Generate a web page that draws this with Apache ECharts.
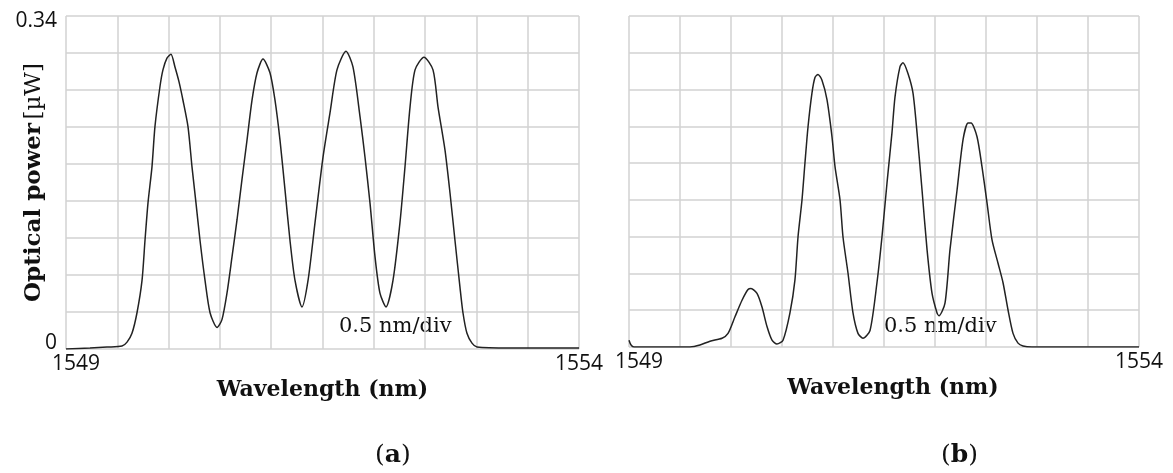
<!DOCTYPE html>
<html>
<head>
<meta charset="utf-8">
<script src="https://cdn.jsdelivr.net/npm/echarts@6/dist/echarts.min.js"></script>
<style>
html,body{margin:0;padding:0;background:#fff;}
#c{width:1173px;height:473px;}
</style>
</head>
<body>
<div id="c"></div>
<script>
// ---- data (wavelength nm, optical power µW) ----
const wavelengthA = [1549.000,1549.234,1549.400,1549.546,1549.595,1549.643,1549.692,1549.741,1549.770,1549.799,1549.838,1549.867,1549.916,1549.945,1549.984,1550.023,1550.062,1550.101,1550.140,1550.189,1550.228,1550.267,1550.306,1550.355,1550.404,1550.472,1550.520,1550.569,1550.618,1550.667,1550.715,1550.764,1550.813,1550.862,1550.920,1550.988,1551.037,1551.086,1551.135,1551.183,1551.232,1551.300,1551.359,1551.427,1551.505,1551.573,1551.641,1551.729,1551.797,1551.866,1551.914,1551.963,1552.012,1552.060,1552.119,1552.187,1552.255,1552.304,1552.353,1552.402,1552.489,1552.577,1552.626,1552.694,1552.743,1552.791,1552.840,1552.869,1552.908,1552.957,1553.006,1553.327,1554.000];
const powerA = [0,0.001,0.002,0.003,0.007,0.016,0.037,0.070,0.111,0.149,0.186,0.227,0.268,0.285,0.297,0.301,0.288,0.273,0.254,0.227,0.186,0.149,0.111,0.070,0.037,0.022,0.030,0.057,0.094,0.132,0.173,0.213,0.254,0.282,0.296,0.282,0.254,0.213,0.162,0.111,0.070,0.043,0.070,0.129,0.196,0.241,0.285,0.304,0.288,0.237,0.196,0.149,0.094,0.057,0.043,0.070,0.129,0.186,0.247,0.285,0.298,0.285,0.247,0.203,0.159,0.111,0.063,0.037,0.016,0.006,0.002,0.001,0.001];

const wavelengthB = [1549.000,1549.020,1549.049,1549.598,1549.696,1549.794,1549.912,1549.971,1550.039,1550.108,1550.167,1550.196,1550.255,1550.304,1550.353,1550.402,1550.451,1550.510,1550.578,1550.627,1550.657,1550.696,1550.725,1550.755,1550.794,1550.824,1550.853,1550.892,1550.941,1550.990,1551.020,1551.069,1551.098,1551.147,1551.196,1551.245,1551.294,1551.363,1551.431,1551.480,1551.529,1551.578,1551.608,1551.657,1551.686,1551.735,1551.784,1551.824,1551.873,1551.922,1551.971,1552.020,1552.039,1552.098,1552.147,1552.216,1552.275,1552.324,1552.353,1552.412,1552.461,1552.510,1552.559,1552.618,1552.667,1552.716,1552.765,1552.814,1552.863,1552.951,1554.000];
const powerB = [0.007,0.002,0,0,0.002,0.006,0.009,0.014,0.031,0.048,0.059,0.060,0.055,0.041,0.021,0.007,0.003,0.007,0.035,0.069,0.113,0.151,0.189,0.226,0.261,0.277,0.280,0.274,0.254,0.216,0.185,0.151,0.113,0.076,0.035,0.014,0.009,0.017,0.066,0.113,0.168,0.220,0.257,0.288,0.292,0.281,0.261,0.220,0.161,0.100,0.055,0.035,0.032,0.045,0.100,0.161,0.213,0.230,0.230,0.216,0.185,0.148,0.110,0.086,0.066,0.038,0.014,0.004,0.001,0,0];

const xMin = 1549, xMax = 1554, xStep = 0.5;
const yMin = 0, yMax = 0.34, yDivisions = 9;
const yAxisName = 'Optical power';
const yAxisUnit = '[µW]';
const xAxisName = 'Wavelength (nm)';
const scaleNote = '0.5 nm/div';
const panelLabels = ['a', 'b'];

// ---- chart ----
const pairs = (xs, ys) => xs.map((x, i) => [x, ys[i]]);
const gridColor = '#d2d2d2';
const tickFont = '"Open Sans", "Noto Sans", sans-serif';
const serif = '"DejaVu Serif", "Liberation Serif", serif';
const tickSize = 21;

function xAxisFor(gridIndex, namePadLeft) {
  return {
    type: 'value', gridIndex, min: xMin, max: xMax, interval: xStep,
    axisLine: { show: false }, axisTick: { show: false },
    splitLine: { show: true, lineStyle: { color: gridColor, width: 1.5 } },
    axisLabel: {
      margin: 5, color: '#111', fontFamily: tickFont, fontSize: tickSize,
      formatter: v => Math.abs(v - xMin) < 1e-6 ? '{first|' + xMin + '}' : (Math.abs(v - xMax) < 1e-6 ? String(xMax) : ''),
      rich: { first: { padding: [0, 0, 0, 20], fontFamily: tickFont, fontSize: tickSize, color: '#111' } }
    },
    name: xAxisName, nameLocation: 'middle', nameGap: 30, nameMoveOverlap: false,
    nameTextStyle: { fontFamily: serif, fontWeight: 'bold', fontSize: 22, color: '#111', padding: [0, 0, 0, namePadLeft] }
  };
}

function yAxisFor(gridIndex, labels) {
  const ax = {
    type: 'value', gridIndex, min: yMin, max: yMax, interval: (yMax - yMin) / yDivisions,
    axisLine: { show: false }, axisTick: { show: false },
    splitLine: { show: true, lineStyle: { color: gridColor, width: 1.5 } },
    axisLabel: {
      show: labels, margin: 9, color: '#111', fontFamily: tickFont, fontSize: tickSize,
      formatter: v => Math.abs(v - yMin) < 1e-9 ? '{bot|0}' : (Math.abs(v - yMax) < 1e-6 ? '{top|' + yMax + '}' : ''),
      rich: {
        top: { padding: [10, 0, 0, 0], fontFamily: tickFont, fontSize: tickSize, color: '#111' },
        bot: { padding: [0, 0, 12, 0], fontFamily: tickFont, fontSize: tickSize, color: '#111' }
      }
    }
  };
  if (labels) {
    ax.name = '{b|' + yAxisName + '} {r|' + yAxisUnit + '}';
    ax.nameLocation = 'middle';
    ax.nameGap = 20;
    ax.nameRotate = 90;
    ax.nameMoveOverlap = false;
    ax.nameTextStyle = {
      rich: {
        b: { fontFamily: serif, fontWeight: 'bold', fontSize: 23, color: '#111' },
        r: { fontFamily: serif, fontSize: 23, color: '#111' }
      }
    };
  }
  return ax;
}

const lineSeries = (idx, data) => ({
  type: 'line', xAxisIndex: idx, yAxisIndex: idx, data,
  showSymbol: false, smooth: 0.25,
  lineStyle: { color: '#222', width: 1.5 }, silent: true, animation: false
});

const chart = echarts.init(document.getElementById('c'), null, { renderer: 'canvas' });
chart.setOption({
  backgroundColor: '#fff',
  animation: false,
  grid: [
    { left: 66, top: 16, width: 513, height: 333, containLabel: false, outerBoundsMode: 'none' },
    { left: 629, top: 16, width: 510, height: 331, containLabel: false, outerBoundsMode: 'none' }
  ],
  xAxis: [xAxisFor(0, 0), xAxisFor(1, 18)],
  yAxis: [yAxisFor(0, true), yAxisFor(1, false)],
  series: [lineSeries(0, pairs(wavelengthA, powerA)), lineSeries(1, pairs(wavelengthB, powerB))],
  graphic: [
    { type: 'text', left: 339, top: 316, style: { text: scaleNote, fontFamily: serif, fontSize: 21, fill: '#111' } },
    { type: 'text', left: 884, top: 316, style: { text: scaleNote, fontFamily: serif, fontSize: 21, fill: '#111' } },
    { type: 'text', left: 375, top: 443, style: { text: '({b|' + panelLabels[0] + '})', fontFamily: serif, fontSize: 25, fill: '#111', rich: { b: { fontFamily: serif, fontWeight: 'bold', fontSize: 25, fill: '#111' } } } },
    { type: 'text', left: 941, top: 443, style: { text: '({b|' + panelLabels[1] + '})', fontFamily: serif, fontSize: 25, fill: '#111', rich: { b: { fontFamily: serif, fontWeight: 'bold', fontSize: 25, fill: '#111' } } } }
  ]
});
</script>
</body>
</html>
